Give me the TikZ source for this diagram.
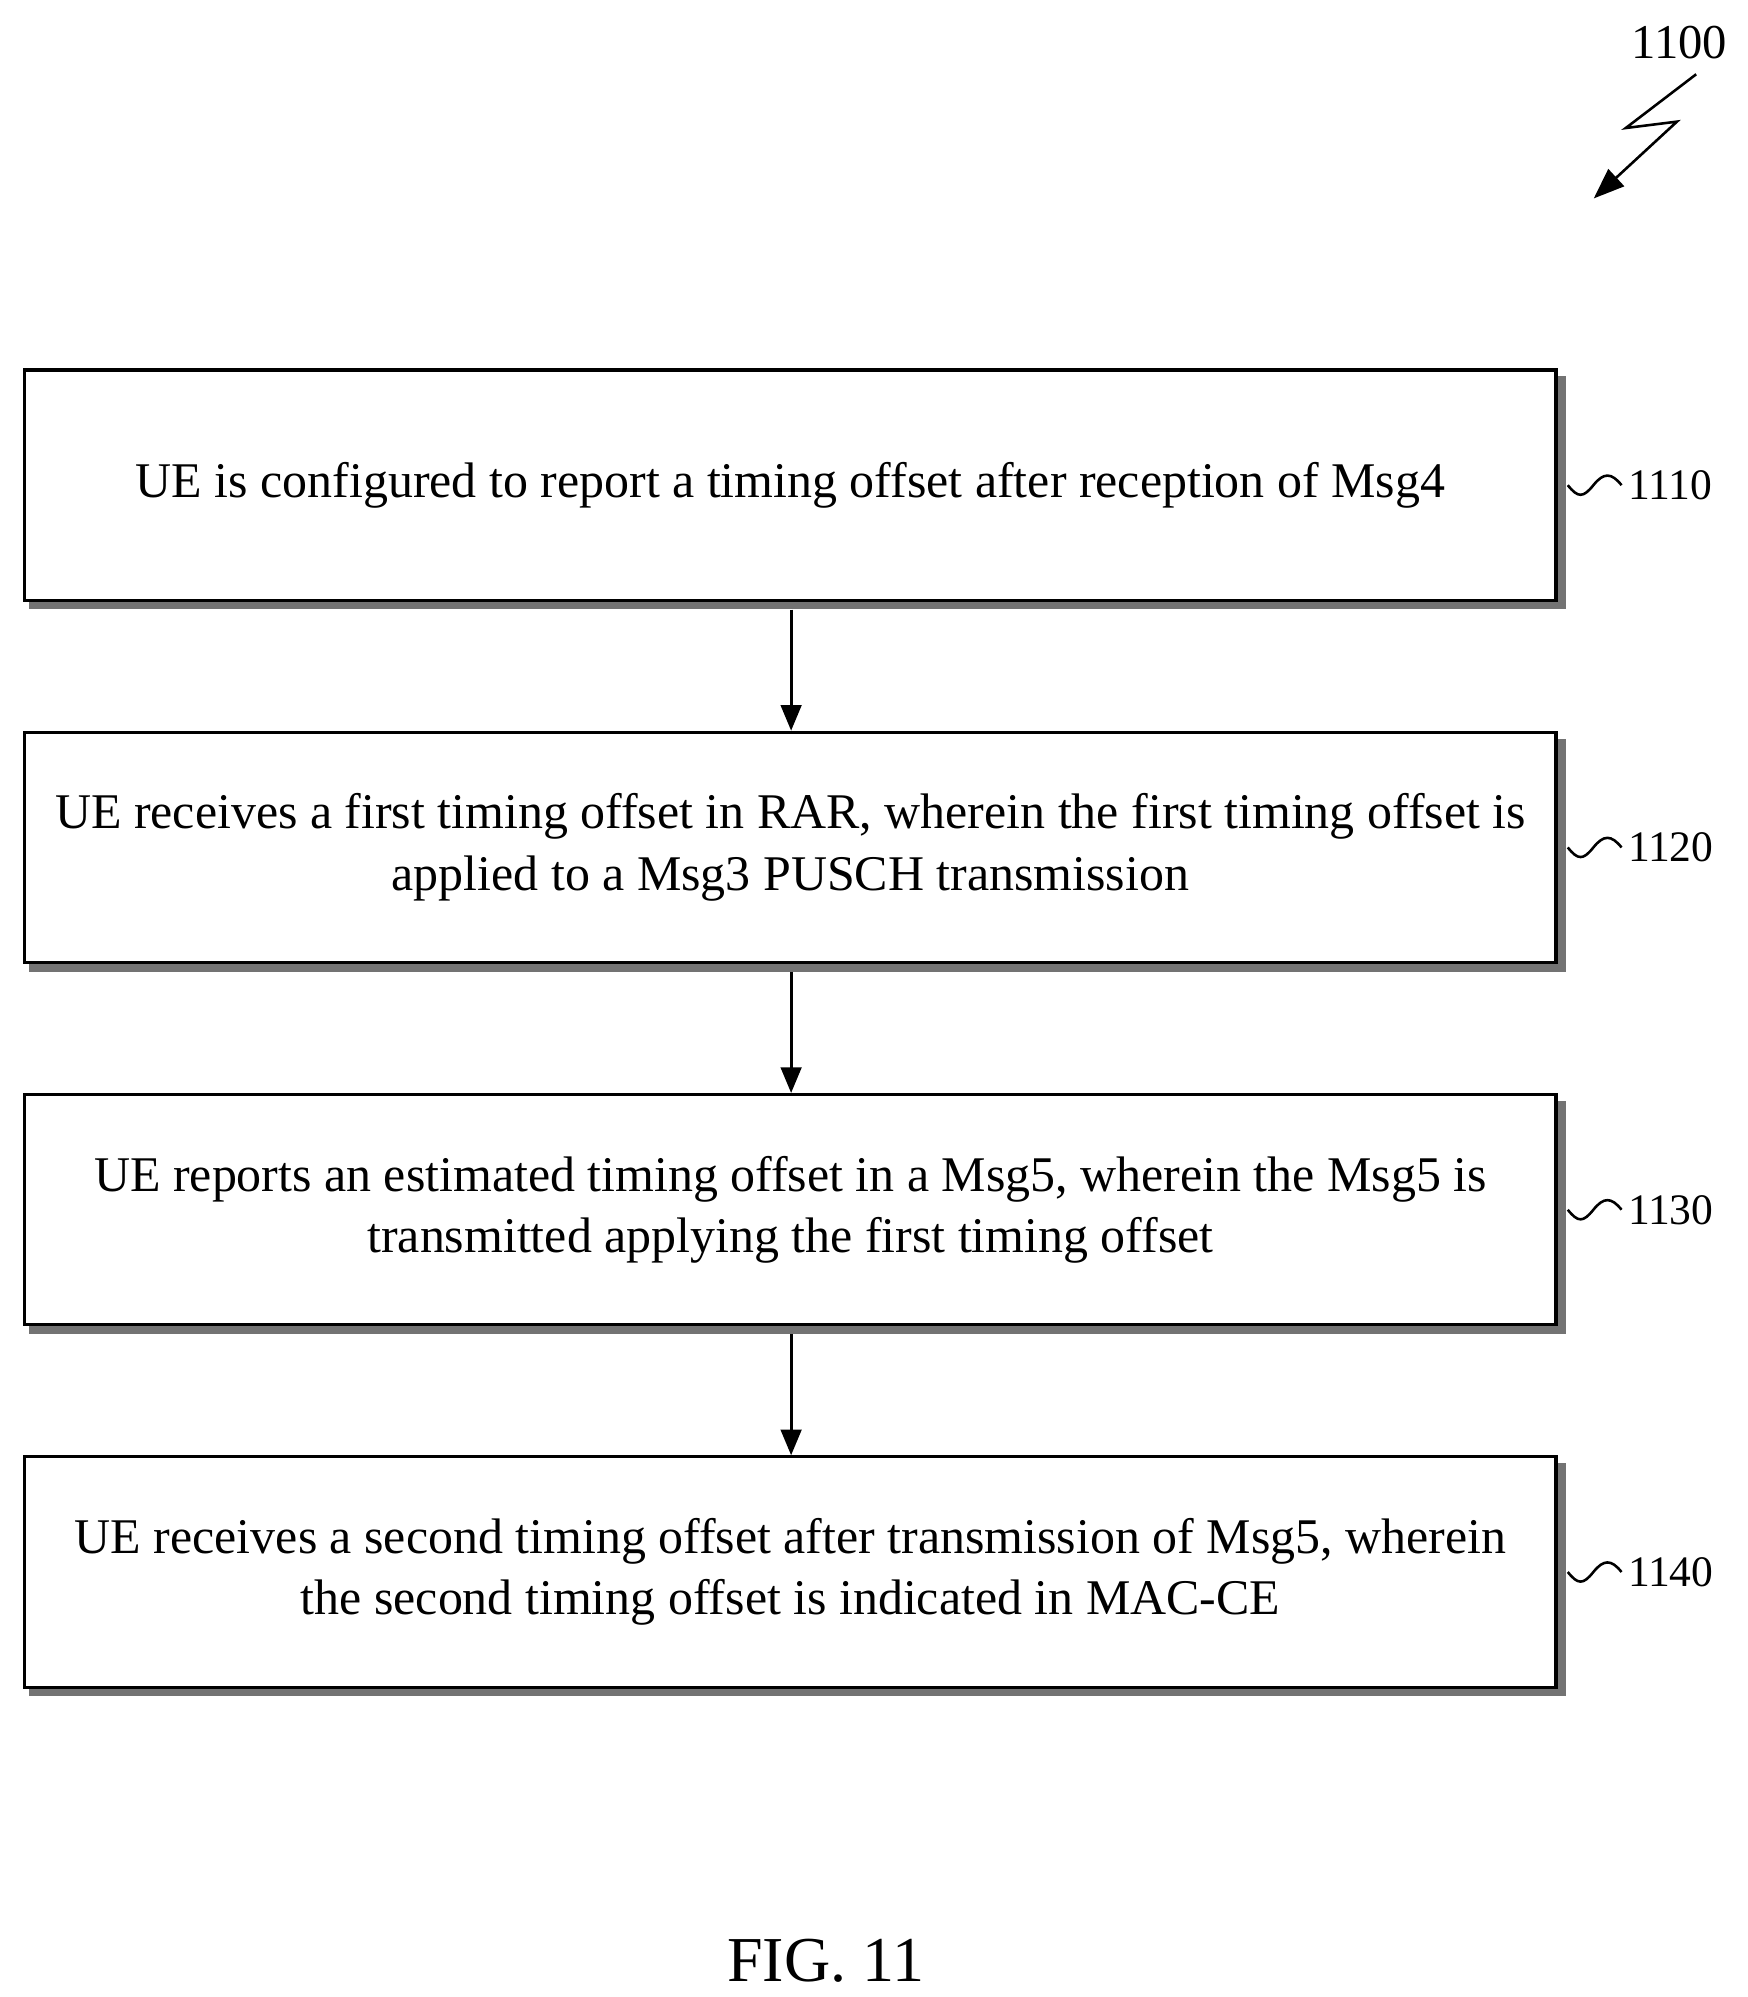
\documentclass[tikz,border=0pt]{standalone}
\usepackage{fontspec}
\setmainfont{Liberation Serif}
\usetikzlibrary{arrows.meta}
\begin{document}
\begin{tikzpicture}[x=0.5pt,y=-0.5pt,
  box/.style={draw,line width=1.2pt,fill=white,minimum width=598pt,minimum height=90pt,align=center,inner sep=0pt,font=\fontsize{19.5}{24}\selectfont},
  shadow/.style={fill=black!55},
  lab/.style={font=\fontsize{17}{20}\selectfont,anchor=west},
  arr/.style={-{Triangle[length=10pt,width=8pt]},line width=1.2pt}]
\useasboundingbox (0,0) rectangle (1365,1560);
\foreach \y in {379,662,945,1228}{\fill[shadow] (23,\y-85) rectangle (1223,\y+97);}
\node[box] (b1) at (617.5,379) {UE is configured to report a timing offset after reception of Msg4};
\node[box] (b2) at (617.5,662) {UE receives a first timing offset in RAR, wherein the first timing offset is\\applied to a Msg3 PUSCH transmission};
\node[box] (b3) at (617.5,945) {UE reports an estimated timing offset in a Msg5, wherein the Msg5 is\\transmitted applying the first timing offset};
\node[box] (b4) at (617.5,1228) {UE receives a second timing offset after transmission of Msg5, wherein\\the second timing offset is indicated in MAC-CE};
\draw[arr] (b1.south -| 618,0) ++(0,6) -- (b2.north -| 618,0);
\draw[arr] (b2.south -| 618,0) ++(0,6) -- (b3.north -| 618,0);
\draw[arr] (b3.south -| 618,0) ++(0,6) -- (b4.north -| 618,0);
\foreach \n/\t in {b1/1110,b2/1120,b3/1130,b4/1140}{
  \node[lab] (l\n) at ([xshift=24pt]\n.east) {\t};
  \draw[line width=1pt] ([xshift=4pt]\n.east) .. controls +(4pt,-5pt) and +(-4pt,-5pt) .. ([xshift=14pt]\n.east) .. controls +(4pt,5pt) and +(-4pt,5pt) .. ([xshift=25pt]\n.east);
}
\node[font=\fontsize{19}{22}\selectfont] (n1100) at (1312,33) {1100};
\coordinate (s1) at (1325,58);
\coordinate (s2) at (1270,100);
\coordinate (s3) at (1310,95);
\coordinate (s4) at (1245,155);
\draw[line width=1pt,-{Triangle[length=12pt,width=9pt]}] (s1) -- (s2) -- (s3) -- (s4);
\node[font=\fontsize{25}{28}\selectfont] (fig) at (645,1532) {FIG. 11};
\end{tikzpicture}
\end{document}
